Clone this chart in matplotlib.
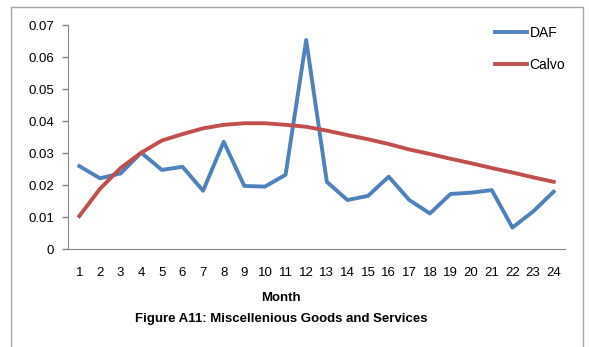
import numpy as np
import matplotlib.pyplot as plt
from matplotlib.patches import Rectangle

months = list(range(1, 25))
daf = [0.0259, 0.0221, 0.0236, 0.0301, 0.0247, 0.0257, 0.0182, 0.0335,
       0.0197, 0.0195, 0.0232, 0.0653, 0.0210, 0.0153, 0.0166, 0.0226,
       0.0153, 0.0111, 0.0172, 0.0176, 0.0184, 0.0067, 0.0117, 0.0179]
calvo = [0.0103, 0.0188, 0.0253, 0.0301, 0.0339, 0.0359, 0.0377, 0.0388,
         0.0393, 0.0393, 0.0388, 0.0382, 0.0370, 0.0356, 0.0343, 0.0328,
         0.0311, 0.0297, 0.0282, 0.0268, 0.0253, 0.0239, 0.0224, 0.0210]
y_ticks = [0, 0.01, 0.02, 0.03, 0.04, 0.05, 0.06, 0.07]

plt.rcParams['font.family'] = ['Liberation Sans', 'DejaVu Sans']

W, H = 589, 347
fig = plt.figure(figsize=(W / 100, H / 100), dpi=100)

# рамка вокруг всего графика (как в Excel)
fig.patches.append(Rectangle((10.5 / W, -0.05), 572.5 / W, 1.05 - 7 / H,
                             transform=fig.transFigure, fill=False,
                             edgecolor='#a6a6a6', linewidth=1.0))

ax = fig.add_axes([68 / W, 1 - 249 / H, (565 - 68) / W, (249 - 25) / H])
ax.plot(months, daf, color='#4f81bd', lw=2.8, label='DAF')
ax.plot(months, calvo, color='#c0504d', lw=2.8, label='Calvo')

ax.set_xlim(0.45, 24.55)
ax.set_ylim(0, 0.07)
ax.set_xticks(months)
ax.set_yticks(y_ticks)
ax.set_yticklabels(['0' if v == 0 else '%.2f' % v for v in y_ticks])
ax.tick_params(axis='x', length=0, pad=13, labelsize=9.5, colors='black')
ax.tick_params(axis='y', length=4, width=1, color='#868686', pad=6, labelsize=9.5)

for s in ['top', 'right']:
    ax.spines[s].set_visible(False)
ax.spines['left'].set_color('#868686')
ax.spines['bottom'].set_color('#868686')

fig.text(281 / W, 1 - 298 / H, 'Month', ha='center', va='center',
         fontsize=9.5, fontweight='bold')
fig.text(281 / W, 1 - 319 / H, 'Figure A11: Miscellenious Goods and Services',
         ha='center', va='center', fontsize=9.5, fontweight='bold')

fig.legend(loc='upper left', bbox_to_anchor=(488 / W, 1 - 19 / H),
           frameon=False, borderpad=0, fontsize=10, handlelength=2.3,
           handletextpad=0.2, labelspacing=1.3)

fig.savefig('out.png', dpi=100)
